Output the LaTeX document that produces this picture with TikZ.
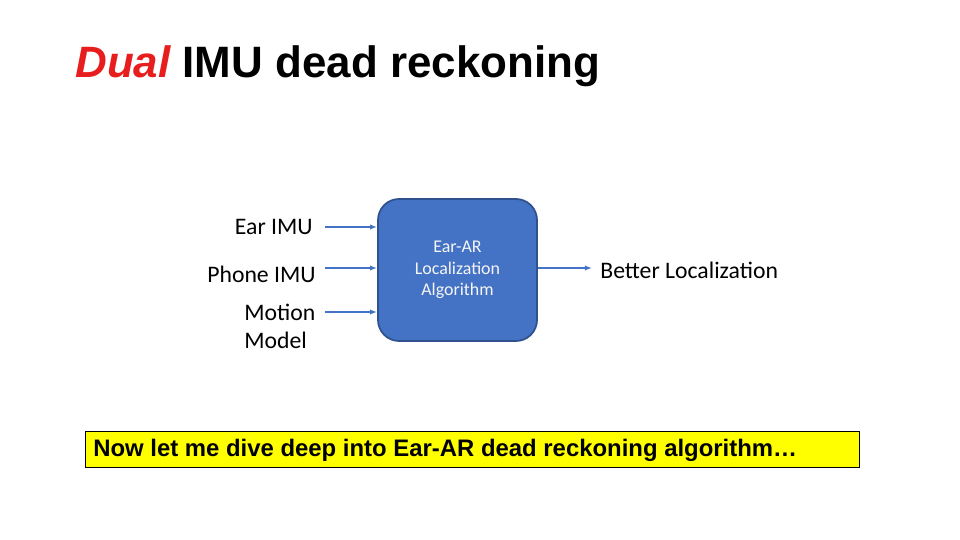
\documentclass[tikz,border=0pt]{standalone}
\usepackage{fontspec}
\setmainfont{Carlito}
\newfontfamily\arialf{Liberation Sans}
\usetikzlibrary{arrows.meta}
\definecolor{accblue}{RGB}{68,114,196}
\definecolor{darkblue}{RGB}{47,82,143}
\begin{document}
\begin{tikzpicture}[x=0.02cm,y=-0.02cm,
  lbl/.style={font=\fontsize{13.5}{16}\selectfont,inner sep=0pt},
  arr/.style={draw=accblue,line width=0.8pt,-{Latex[length=4pt,width=3pt]}}]
\useasboundingbox (0,0) rectangle (960,540);
\node[anchor=base west,inner sep=0pt,font=\arialf\bfseries\fontsize{25}{30}\selectfont] (title) at (75,78) {\textcolor[HTML]{E81E1E}{\itshape Dual} IMU dead reckoning};
\node[draw=darkblue,line width=1pt,fill=accblue,rounded corners=12pt,minimum width=159*0.02cm,minimum height=142*0.02cm,align=center,text=white!92!gray,font=\fontsize{10.2}{12.4}\selectfont] (alg) at (457.5,270) {Ear-AR\\Localization\\Algorithm};
\node[lbl,anchor=east] (ear) at (313,227) {Ear IMU};
\node[lbl,anchor=east] (phone) at (316,274) {Phone IMU};
\node[lbl,anchor=west,align=left,font=\fontsize{13.5}{16}\selectfont] (motion) at (244,326) {Motion\\Model};
\coordinate (e1) at (325,227); \coordinate (e2) at (325,268); \coordinate (e3) at (325,312);
\draw[arr] (e1) -- (e1 -| alg.west);
\draw[arr] (e2) -- (e2 -| alg.west);
\draw[arr] (e3) -- (e3 -| alg.west);
\node[lbl,anchor=west] (out) at (600,270) {Better Localization};
\draw[arr] (alg.east |- 0,268) -- (592,268);
\node[draw=black,line width=0.6pt,fill={rgb,255:red,255;green,255;blue,0},minimum width=774*0.02cm,minimum height=36*0.02cm,anchor=north west] (note) at (85,431) {};
\node[anchor=west,inner sep=0pt,font=\arialf\bfseries\fontsize{13.6}{15}\selectfont] (nt) at (93,450) {Now let me dive deep into Ear-AR dead reckoning algorithm…};
\end{tikzpicture}
\end{document}
